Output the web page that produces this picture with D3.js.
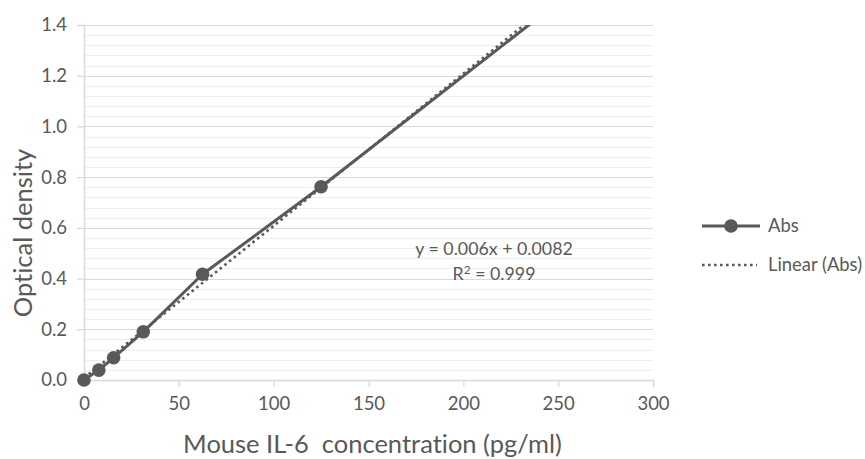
<!DOCTYPE html>
<html>
<head>
<meta charset="utf-8">
<script src="https://cdn.jsdelivr.net/npm/d3@7"></script>
<style>
  html, body { margin: 0; padding: 0; background: #fff; }
  svg { display: block; }
  text { font-family: Lato, "Open Sans", sans-serif; fill: #595959; font-variant-ligatures: none; }
</style>
</head>
<body>
<svg id="chart" width="865" height="459"></svg>
<script>
// Standard curve: concentration (pg/ml) vs optical density
const concentrations = [0, 7.8125, 15.625, 31.25, 62.5, 125, 250];
const absorbance = [0, 0.039, 0.088, 0.19, 0.417, 0.762, 1.49];

// Linear trendline coefficients (y = slope * x + intercept)
const trendSlope = 0.006;
const trendIntercept = 0.0082;
const rSquared = 0.999;

const xTickValues = [0, 50, 100, 150, 200, 250, 300];
const yTickValues = [0, 0.2, 0.4, 0.6, 0.8, 1.0, 1.2, 1.4];
const yMinorValues = d3.range(0, 1.4001, 0.04);

const seriesName = "Abs";
const trendName = "Linear (Abs)";
const xTitle = "Mouse IL-6\u00a0 concentration (pg/ml)";
const yTitle = "Optical density";

const svg = d3.select("#chart");
const plot = { left: 84, right: 653, top: 25, bottom: 380 };

const x = d3.scaleLinear().domain([0, 300]).range([plot.left, plot.right]);
const y = d3.scaleLinear().domain([0, 1.4]).range([plot.bottom, plot.top]);

const gridColor = "#d9d9d9";
const minorColor = "#eeeeee";
const inkColor = "#595959";

// minor gridlines
svg.append("g")
  .selectAll("line")
  .data(yMinorValues)
  .join("line")
  .attr("x1", plot.left).attr("x2", plot.right)
  .attr("y1", d => Math.round(y(d)) + 0.5).attr("y2", d => Math.round(y(d)) + 0.5)
  .attr("stroke", minorColor).attr("stroke-width", 1);

// major gridlines
svg.append("g")
  .selectAll("line")
  .data(yTickValues.slice(1))
  .join("line")
  .attr("x1", plot.left).attr("x2", plot.right)
  .attr("y1", d => Math.round(y(d)) + 0.5).attr("y2", d => Math.round(y(d)) + 0.5)
  .attr("stroke", gridColor).attr("stroke-width", 1.2);

// axes
const xAxis = d3.axisBottom(x).tickValues(xTickValues).tickSize(7).tickPadding(10)
  .tickFormat(d3.format("d"));
const yAxis = d3.axisLeft(y).tickValues(yTickValues).tickSize(7).tickPadding(10)
  .tickFormat(d3.format(".1f"));

const gx = svg.append("g").attr("transform", `translate(0,${plot.bottom})`).call(xAxis);
const gy = svg.append("g").attr("transform", `translate(${plot.left},0)`).call(yAxis);

[gx, gy].forEach(g => {
  g.select(".domain").attr("stroke", gridColor).attr("stroke-width", 1.5);
  g.selectAll(".tick line").attr("stroke", gridColor).attr("stroke-width", 1.2);
  g.selectAll(".tick text")
    .attr("font-family", "Lato, sans-serif")
    .attr("font-size", 18.5)
    .attr("fill", inkColor);
});

// axis titles
svg.append("text")
  .attr("x", (plot.left + plot.right) / 2 + 4)
  .attr("y", 453)
  .attr("text-anchor", "middle")
  .attr("font-size", 25.5)
  .text(xTitle);

svg.append("text")
  .attr("transform", "translate(32,233) rotate(-90)")
  .attr("text-anchor", "middle")
  .attr("font-size", 25.5)
  .text(yTitle);

// clip lines to plot area
svg.append("clipPath").attr("id", "plot-clip")
  .append("rect")
  .attr("x", plot.left).attr("y", plot.top)
  .attr("width", plot.right - plot.left).attr("height", plot.bottom - plot.top);

const points = concentrations.map((c, i) => ({ x: c, y: absorbance[i] }));
const marks = svg.append("g").attr("clip-path", "url(#plot-clip)");

// trendline over the data range
const xMax = d3.max(concentrations);
const trend = [0, xMax].map(c => ({ x: c, y: trendSlope * c + trendIntercept }));
const line = d3.line().x(d => x(d.x)).y(d => y(d.y));

marks.append("path")
  .datum(points)
  .attr("d", line)
  .attr("fill", "none")
  .attr("stroke", inkColor)
  .attr("stroke-width", 3)
  .attr("stroke-linejoin", "round");

marks.append("path")
  .datum(trend)
  .attr("d", line)
  .attr("fill", "none")
  .attr("stroke", inkColor)
  .attr("stroke-width", 2.6)
  .attr("stroke-dasharray", "2.6,3.4");

// markers: only those within the value axis range
svg.append("g")
  .selectAll("circle")
  .data(points.filter(d => d.y <= y.domain()[1]))
  .join("circle")
  .attr("cx", d => x(d.x))
  .attr("cy", d => y(d.y))
  .attr("r", 6.8)
  .attr("fill", inkColor);

// trendline equation
const eq = svg.append("g").attr("font-size", 17.8).attr("text-anchor", "middle");
eq.append("text").attr("x", 494).attr("y", 255)
  .text(`y = ${trendSlope}x + ${trendIntercept}`);
const r2 = eq.append("text").attr("x", 494).attr("y", 280);
r2.append("tspan").text("R");
r2.append("tspan").text("2").attr("font-size", 12).attr("dy", -6);
r2.append("tspan").text(` = ${rSquared}`).attr("dy", 6);

// legend
const legend = svg.append("g").attr("font-size", 18.4);
const lg1 = legend.append("g").attr("transform", "translate(702,226)");
lg1.append("line").attr("x1", 0).attr("x2", 58).attr("stroke", inkColor).attr("stroke-width", 3);
lg1.append("circle").attr("cx", 29).attr("r", 6.8).attr("fill", inkColor);
lg1.append("text").attr("x", 66).attr("dy", "0.35em").text(seriesName);

const lg2 = legend.append("g").attr("transform", "translate(702,265)");
lg2.append("line").attr("x1", 0).attr("x2", 55).attr("stroke", inkColor)
  .attr("stroke-width", 2.6).attr("stroke-dasharray", "2.6,3.4");
lg2.append("text").attr("x", 66).attr("dy", "0.35em").text(trendName);
</script>
</body>
</html>
